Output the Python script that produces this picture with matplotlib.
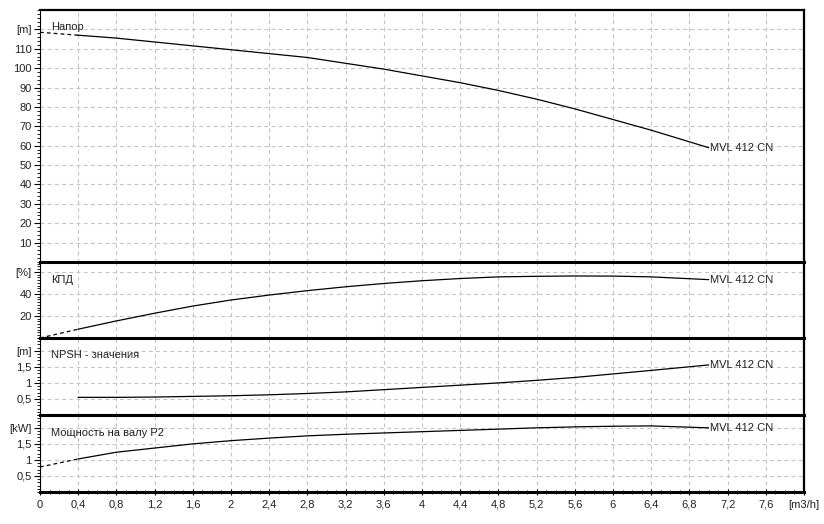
import matplotlib
matplotlib.use("Agg")
import matplotlib.pyplot as plt
from matplotlib.ticker import AutoMinorLocator

plt.rcParams['font.family'] = ['Liberation Sans', 'DejaVu Sans']
plt.rcParams['font.size'] = 8

# flow [m3/h]
q = [0.4, 0.8, 1.2, 1.6, 2.0, 2.4, 2.8, 3.2, 3.6, 4.0, 4.4, 4.8, 5.2, 5.6, 6.0, 6.4, 7.0]

# head [m]
head = [117, 115.5, 113.5, 111.5, 109.5, 107.5, 105.5, 102.5, 99.5, 96, 92.5, 88.5, 84, 79, 73.5, 68, 59]
head_ext = [118.5, 117]

# efficiency [%]
eff = [8, 15.5, 22.5, 29, 34.5, 39, 43, 46.5, 49.5, 52, 54, 55.5, 56, 56.3, 56.2, 55.5, 53]
eff_ext = [0, 8]

# NPSH [m]
npsh = [0.55, 0.55, 0.56, 0.58, 0.6, 0.63, 0.67, 0.72, 0.79, 0.86, 0.93, 1.0, 1.08, 1.17, 1.28, 1.39, 1.56]

# shaft power P2 [kW]
power = [1.03, 1.24, 1.37, 1.5, 1.6, 1.68, 1.75, 1.8, 1.84, 1.88, 1.92, 1.96, 2.0, 2.03, 2.05, 2.06, 2.0]
power_ext = [0.78, 1.03]

q_ext = [0.0, 0.4]
xticks = [0, 0.4, 0.8, 1.2, 1.6, 2, 2.4, 2.8, 3.2, 3.6, 4, 4.4, 4.8, 5.2, 5.6, 6, 6.4, 6.8, 7.2, 7.6, 8]
pump = "MVL 412 CN"

W, H = 824, 524
fig = plt.figure(figsize=(W / 100, H / 100), dpi=100)


def mk(top, bottom):
    return fig.add_axes([40 / W, 1 - bottom / H, 764 / W, (bottom - top) / H])


def comma(v, pos=None):
    return ("%g" % v).replace(".", ",")


panels = [
    dict(box=(10, 262), ylim=(0, 130), yt=[10, 20, 30, 40, 50, 60, 70, 80, 90, 100, 110, 120], unit="[m]",
         minor=5, title="Напор", ty=121, y=head, ext=head_ext),
    dict(box=(262, 338), ylim=(0, 69), yt=[20, 40, 60], unit="[%]",
         minor=8, title="КПД", ty=53, y=eff, ext=eff_ext),
    dict(box=(338, 415), ylim=(0, 2.4), yt=[0.5, 1, 1.5, 2], unit="[m]",
         minor=5, title="NPSH - значения", ty=1.88, y=npsh, ext=None),
    dict(box=(415, 492), ylim=(0, 2.4), yt=[0.5, 1, 1.5, 2], unit="[kW]",
         minor=5, title="Мощность на валу P2", ty=1.84, y=power, ext=power_ext),
]

for i, p in enumerate(panels):
    ax = mk(*p["box"])
    ax.patch.set_visible(False)
    ax.set_zorder(10 - i)
    ax.set_xlim(0, 8)
    ax.set_ylim(*p["ylim"])
    ax.set_xticks(xticks)
    ax.set_yticks(p["yt"])
    labels = [comma(v) for v in p["yt"][:-1]] + [p["unit"]]
    ax.set_yticklabels(labels)
    ax.yaxis.set_minor_locator(AutoMinorLocator(p["minor"]))
    ax.grid(True, which="major", color="#c4c4c4", linestyle=(0, (3.5, 3)), linewidth=0.8)
    ax.tick_params(axis="y", which="major", direction="out", length=4, width=0.8, pad=2, labelsize=8,
                   labelcolor="#222222")
    ax.tick_params(axis="y", which="minor", direction="out", length=2, width=0.6)
    for s in ["top", "right", "bottom", "left"]:
        ax.spines[s].set_color("black")
    ax.spines["left"].set_linewidth(0.8)
    ax.spines["right"].set_linewidth(1.6)
    ax.spines["bottom"].set_linewidth(2.2)
    ax.spines["top"].set_linewidth(1.6 if i == 0 else 0)
    if i < 3:
        ax.tick_params(axis="x", which="both", length=0, labelbottom=False)
    else:
        ax.set_xticklabels([comma(v) for v in xticks[:-1]] + ["[m3/h]"])
        ax.xaxis.set_minor_locator(AutoMinorLocator(4))
        ax.tick_params(axis="x", which="major", direction="inout", length=5, width=0.8, pad=3, labelsize=8,
                       labelcolor="#222222")
        ax.tick_params(axis="x", which="minor", direction="inout", length=3, width=0.6)
    if p["ext"] is not None:
        ax.plot(q_ext, p["ext"], color="black", linewidth=0.9, linestyle=(0, (3, 2.5)))
    ax.plot(q, p["y"], color="black", linewidth=0.9)
    ax.text(q[-1] + 0.02, p["y"][-1], pump, fontsize=8, va="center", ha="left", color="#222222")
    ax.text(0.12, p["ty"], p["title"], fontsize=8, va="center", ha="left", color="#222222")

fig.savefig("out.png", dpi=100)
